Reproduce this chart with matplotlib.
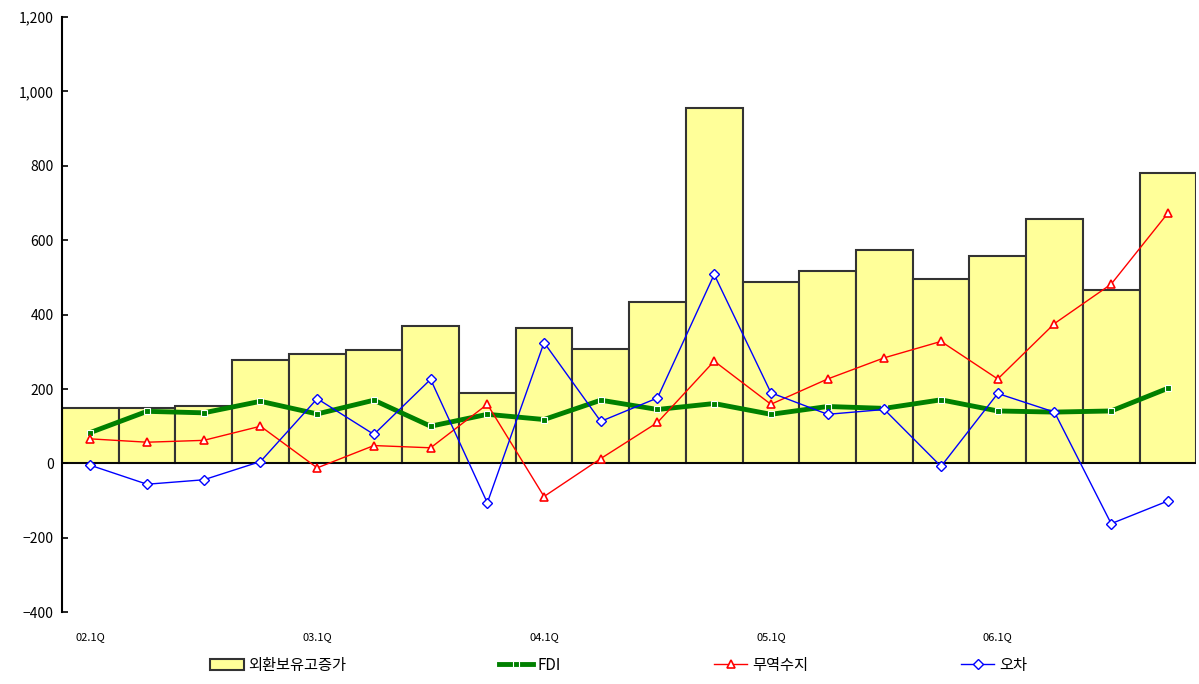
import numpy as np
import matplotlib.pyplot as plt
from matplotlib.ticker import FuncFormatter

plt.rcParams['font.family'] = ['Noto Sans CJK KR', 'DejaVu Sans']

quarters = ['02.1Q', '02.2Q', '02.3Q', '02.4Q', '03.1Q', '03.2Q', '03.3Q', '03.4Q',
            '04.1Q', '04.2Q', '04.3Q', '04.4Q', '05.1Q', '05.2Q', '05.3Q', '05.4Q',
            '06.1Q', '06.2Q', '06.3Q', '06.4Q']
tick_labels = ['02.1Q', '03.1Q', '04.1Q', '05.1Q', '06.1Q']

reserves = [150, 150, 155, 278, 295, 305, 370, 190, 365, 307,
            435, 955, 488, 518, 575, 497, 558, 658, 466, 780]
fdi = [83, 140, 136, 167, 133, 170, 100, 132, 118, 170,
       145, 161, 132, 153, 148, 171, 141, 138, 141, 202]
trade = [66, 57, 62, 100, -12, 48, 42, 159, -89, 13,
         110, 275, 159, 227, 284, 328, 227, 376, 482, 673]
error = [-5, -56, -44, 5, 174, 78, 226, -106, 325, 113,
         176, 508, 190, 132, 145, -8, 188, 138, -162, -101]

x = np.arange(len(quarters))

fig = plt.figure(figsize=(11.99, 6.84), dpi=100, facecolor='white')
ax = fig.add_axes([0.0517, 0.105, 0.946, 0.870])

h_bar = ax.bar(x, reserves, width=1.0, color='#ffff99', edgecolor='#333333', linewidth=1.5,
               label='외환보유고증가', zorder=1)
ax.axhline(0, color='black', linewidth=1.2, zorder=2)
h_fdi, = ax.plot(x, fdi, color='#008000', linewidth=3.5, marker='s', markersize=4.5,
                 markerfacecolor='#008000', markeredgecolor='white', markeredgewidth=0.8,
                 label='FDI', zorder=3)
h_trade, = ax.plot(x, trade, color='red', linewidth=1, marker='^', markersize=6,
                   markerfacecolor='white', markeredgecolor='red', markeredgewidth=1.2,
                   label='무역수지', zorder=4)
h_err, = ax.plot(x, error, color='blue', linewidth=1, marker='D', markersize=5,
                 markerfacecolor='white', markeredgecolor='blue', markeredgewidth=1,
                 label='오차', zorder=5)

ax.set_xlim(-0.5, len(x) - 0.5)
ax.set_ylim(-400, 1200)
ax.set_yticks(np.arange(-400, 1201, 200))
ax.yaxis.set_major_formatter(FuncFormatter(lambda v, p: f'{int(v):,}'.replace('-', '−')))
ax.set_xticks([quarters.index(t) for t in tick_labels])
ax.set_xticklabels(tick_labels)

for s in ['top', 'right', 'bottom']:
    ax.spines[s].set_visible(False)
ax.spines['left'].set_linewidth(1.5)
ax.tick_params(axis='y', direction='in', length=4, width=1.2, labelsize=10, pad=6)
ax.tick_params(axis='x', length=0, labelsize=8, pad=14)

fig.legend([h_bar, h_fdi, h_trade, h_err], ['외환보유고증가', 'FDI', '무역수지', '오차'],
           loc='lower center', bbox_to_anchor=(0.516, -0.005), ncol=4, frameon=False,
           fontsize=11, columnspacing=10, handlelength=2.2, handletextpad=0.3)

fig.savefig('out.png', dpi=100, facecolor='white')
